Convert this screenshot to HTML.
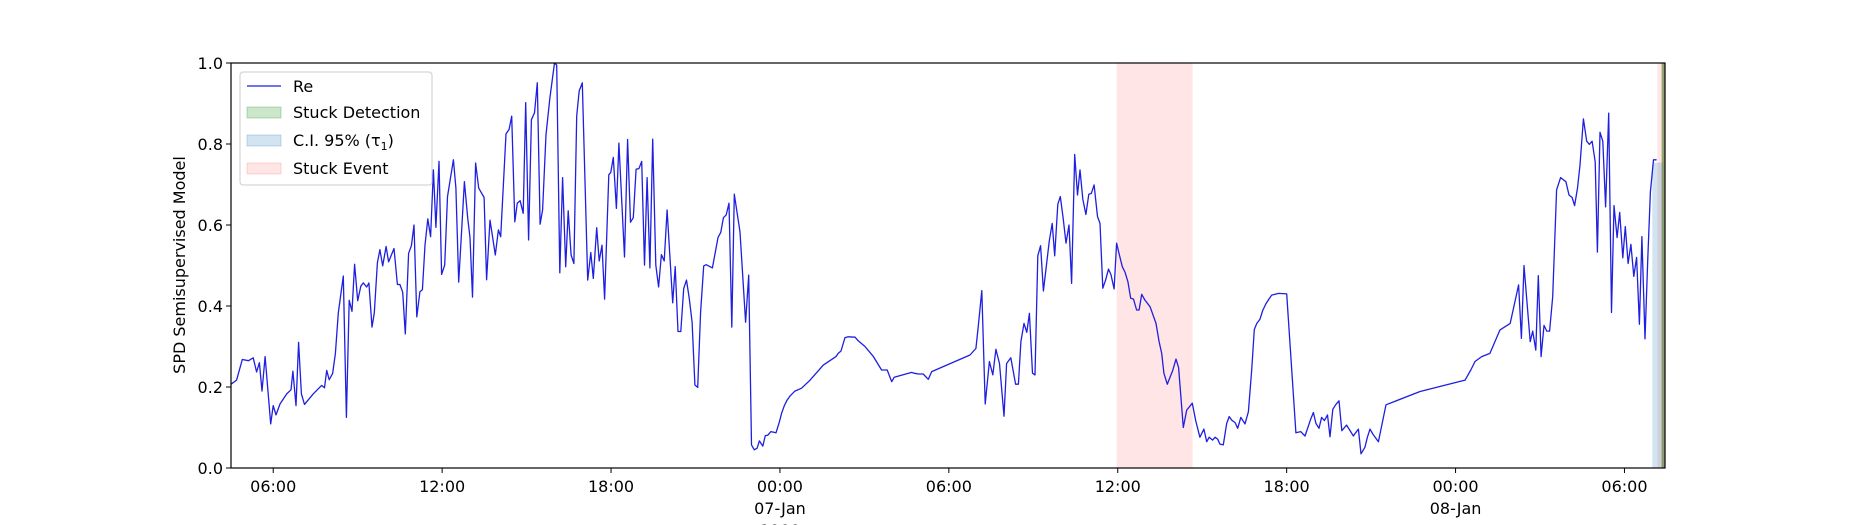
<!DOCTYPE html>
<html><head><meta charset="utf-8"><style>
html,body{margin:0;padding:0;background:#fff;}
svg{display:block;font-family:"DejaVu Sans","Liberation Sans",sans-serif;}
</style></head><body>
<svg id="chart" width="1850" height="525" viewBox="0 0 1850 525">
<g id="bands"></g>
<g id="series"></g>
<g id="axes"></g>
<g id="legend">
  <rect x="240" y="72" width="192" height="113" rx="3" fill="#fff" fill-opacity="0.8" stroke="#ccc"/>
  <line x1="247" y1="86" x2="281" y2="86" stroke="#1f1fe0" stroke-width="1.3"/>
  <text x="293" y="92" font-size="16">Re</text>
  <rect x="247" y="107" width="34" height="11" fill="rgba(0,128,0,0.2)" stroke="rgba(0,128,0,0.25)"/>
  <text x="293" y="118" font-size="16">Stuck Detection</text>
  <rect x="247" y="135" width="34" height="11" fill="rgba(31,119,180,0.2)" stroke="rgba(31,119,180,0.25)"/>
  <text x="293" y="146" font-size="16">C.I. 95% (τ<tspan font-size="11" dy="4">1</tspan><tspan dy="-4">)</tspan></text>
  <rect x="247" y="163" width="34" height="11" fill="rgba(255,0,0,0.1)" stroke="rgba(255,0,0,0.15)"/>
  <text x="293" y="174" font-size="16">Stuck Event</text>
</g>
</svg>
<script>
// hours since 04:30 on 06-Jan
const times = [0.00,0.20,0.40,0.62,0.79,0.91,1.01,1.10,1.21,1.41,1.50,1.60,1.74,1.98,2.13,2.20,2.31,2.40,2.50,2.61,2.92,3.22,3.32,3.40,3.49,3.61,3.71,3.81,3.99,4.10,4.20,4.30,4.39,4.50,4.61,4.70,4.82,4.90,5.01,5.09,5.20,5.29,5.39,5.51,5.60,5.79,5.91,6.00,6.10,6.19,6.31,6.41,6.50,6.60,6.71,6.80,6.89,6.99,7.09,7.19,7.28,7.39,7.48,7.59,7.69,7.90,7.99,8.09,8.29,8.41,8.49,8.58,8.69,8.80,8.99,9.08,9.20,9.30,9.39,9.50,9.58,9.77,9.88,9.97,10.08,10.17,10.27,10.38,10.47,10.57,10.67,10.78,10.88,10.98,11.07,11.19,11.33,11.49,11.57,11.68,11.78,11.89,11.98,12.08,12.18,12.28,12.37,12.48,12.58,12.67,12.78,12.87,12.99,13.08,13.18,13.27,13.42,
13.49,13.58,13.69,13.78,13.98,14.09,14.19,14.29,14.39,14.49,14.59,14.69,14.78,14.88,14.98,15.09,15.19,15.29,15.39,15.49,15.69,15.78,15.88,15.98,16.08,16.18,16.28,16.38,16.48,16.58,16.68,16.79,16.88,17.10,17.30,17.40,17.49,17.59,17.69,17.79,17.88,18.08,18.28,18.39,18.49,18.59,18.69,
18.77,18.89,18.98,19.07,19.18,19.36,19.48,19.56,19.65,19.74,19.86,20.03,20.27,20.57,21.04,21.49,21.57,21.67,21.81,21.93,22.17,22.28,22.52,22.82,23.11,23.31,23.47,23.56,24.18,24.26,24.42,24.59,24.77,24.89,26.25,26.46,26.55,26.67,26.79,26.94,27.06,
27.17,27.30,27.46,27.55,27.70,27.87,
27.97,28.06,28.17,28.27,28.36,28.47,28.56,28.66,28.76,28.86,29.07,29.17,29.26,29.37,29.46,29.56,29.66,29.77,29.86,29.97,30.07,30.16,30.26,30.37,30.47,30.56,30.66,30.78,30.87,30.97,31.07,31.17,31.26,31.37,31.46,31.56,31.66,31.76,31.86,31.96,32.06,32.17,32.26,32.35,32.46,32.65,32.86,32.97,33.06,33.14,33.26,33.45,33.57,33.66,33.83,33.95,34.15,
34.27,34.42,34.56,34.66,34.75,34.87,34.96,35.05,35.13,35.25,35.37,35.46,35.55,35.67,35.76,35.87,36.02,36.14,36.26,36.35,36.44,36.55,36.65,36.76,36.87,36.97,37.21,37.50,37.83,38.00,38.15,38.35,38.45,38.54,38.65,38.74,38.84,38.95,39.04,39.14,39.24,39.36,39.46,39.63,39.87,39.95,40.05,40.14,40.28,40.37,40.46,40.56,40.76,41.03,42.24,
43.84,44.04,44.19,44.43,44.72,45.08,45.44,45.74,45.84,45.93,46.15,46.24,46.35,46.44,46.54,46.64,46.74,46.84,46.95,47.09,47.23,47.42,47.53,47.64,47.73,47.83,47.92,48.04,48.16,48.25,48.35,48.46,48.54,48.63,48.73,48.83,48.94,49.04,49.13,49.24,49.33,49.44,49.53,49.63,49.73,49.83,49.93,50.03,50.12,50.23,50.33,50.42,50.53,50.64,50.74,50.85,50.94];
const values = [0.207,0.217,0.268,0.265,0.272,0.237,0.26,0.19,0.275,0.109,0.154,0.131,0.158,0.183,0.193,0.239,0.154,0.31,0.183,0.157,0.183,0.204,0.198,0.241,0.218,0.233,0.283,0.383,0.474,0.125,0.414,0.387,0.503,0.413,0.449,0.457,0.447,0.457,0.348,0.383,0.507,0.539,0.499,0.547,0.509,0.542,0.453,0.453,0.434,0.331,0.53,0.549,0.60,0.373,0.435,0.44,0.55,0.615,0.571,0.736,0.594,0.757,0.478,0.501,0.67,0.761,0.691,0.459,0.707,0.617,0.569,0.422,0.753,0.691,0.668,0.465,0.612,0.567,0.526,0.588,0.571,0.825,0.836,0.869,0.608,0.654,0.66,0.629,0.902,0.563,0.86,0.877,0.951,0.602,0.637,0.823,0.914,1.0,0.995,0.482,0.717,0.497,0.635,0.526,0.505,0.869,0.931,0.951,0.699,0.464,0.532,0.468,0.593,0.511,0.55,0.417,0.724,
0.73,0.767,0.641,0.802,0.521,0.811,0.607,0.618,0.738,0.739,0.757,0.501,0.717,0.494,0.812,0.501,0.447,0.527,0.511,0.637,0.408,0.497,0.337,0.337,0.443,0.464,0.418,0.36,0.205,0.199,0.385,0.499,0.502,0.494,0.569,0.582,0.618,0.625,0.654,0.348,0.676,0.583,0.36,0.476,
0.057,0.045,0.049,0.067,0.054,0.08,0.081,0.09,0.087,0.114,0.135,0.153,0.166,0.178,0.19,0.197,0.217,0.254,0.275,0.283,0.289,0.322,0.324,0.323,0.314,0.3,0.275,0.242,0.242,0.213,0.224,0.236,0.234,0.232,0.232,0.219,0.238,0.279,0.295,0.353,0.438,
0.158,0.263,0.23,0.293,0.258,0.128,
0.258,0.272,0.207,0.207,0.312,0.357,0.335,0.382,0.234,0.23,0.524,0.549,0.437,0.561,0.604,0.524,0.651,0.67,0.618,0.555,0.6,0.456,0.774,0.674,0.736,0.664,0.626,0.676,0.678,0.699,0.621,0.604,0.444,0.464,0.491,0.477,0.442,0.555,0.526,0.497,0.483,0.46,0.419,0.417,0.39,0.39,0.429,0.415,0.398,0.357,0.312,0.283,0.234,0.207,0.24,0.269,0.248,
0.1,0.143,0.16,0.117,0.076,0.096,0.065,0.076,0.069,0.076,0.071,0.059,0.057,0.11,0.127,0.118,0.112,0.098,0.125,0.109,0.139,0.242,0.342,0.357,0.367,0.389,0.405,0.417,0.427,0.431,0.43,0.087,0.09,0.079,0.12,0.137,0.11,0.098,0.125,0.117,0.131,0.077,0.145,0.156,0.166,0.092,0.106,0.079,0.087,0.096,0.035,0.051,0.076,0.096,0.084,
0.065,0.156,0.189,0.217,0.242,0.263,0.275,0.283,0.341,0.357,0.452,0.32,0.5,0.312,0.338,0.291,0.475,0.275,0.352,0.338,0.338,0.423,0.687,0.717,0.707,0.674,0.668,0.648,0.691,0.748,0.862,0.807,0.799,0.807,0.756,0.533,0.829,0.807,0.645,0.876,0.384,0.648,0.569,0.631,0.519,0.596,0.505,0.552,0.473,0.52,0.355,0.571,0.319,0.518,0.682,0.761,0.761];
const yTicks = [0.0,0.2,0.4,0.6,0.8,1.0];
const yTickLabels = ["0.0","0.2","0.4","0.6","0.8","1.0"];
const xTicks = [1.5,7.5,13.5,19.5,25.5,31.5,37.5,43.5,49.5];
const xTickLabels = [["06:00"],["12:00"],["18:00"],["00:00","07-Jan","1900"],["06:00"],["12:00"],["18:00"],["00:00","08-Jan"],["06:00"]];
const stuckEventStarts = [31.46,50.67];
const stuckEventEnds = [34.16,50.94];
const ciStarts = [50.49];
const ciEnds = [50.88];
const ciHeights = [0.754];
const detectStarts = [50.82];
const detectEnds = [50.94];

const NS="http://www.w3.org/2000/svg";
const L=231,R=1665,T=63,B=468,tMax=50.94;
function xs(t){return L+(t/tMax)*(R-L);}
function ys(v){return B-v*(B-T);}
function mk(tag,attrs,parent){const e=document.createElementNS(NS,tag);for(const k in attrs)e.setAttribute(k,attrs[k]);parent.appendChild(e);return e;}
const bands=document.getElementById('bands'),series=document.getElementById('series'),axes=document.getElementById('axes');

for(let i=0;i<stuckEventStarts.length;i++){
  const r=mk('rect',{x:xs(stuckEventStarts[i]),y:T,width:xs(stuckEventEnds[i])-xs(stuckEventStarts[i]),height:B-T,fill:'rgba(255,0,0,0.1)'},bands);
  
  
}
for(let i=0;i<ciStarts.length;i++){
  const r=mk('rect',{x:xs(ciStarts[i]),y:ys(ciHeights[i]),width:xs(ciEnds[i])-xs(ciStarts[i]),height:B-ys(ciHeights[i]),fill:'rgba(31,119,180,0.2)'},bands);
  
  
}
for(let i=0;i<detectStarts.length;i++){
  const r=mk('rect',{x:xs(detectStarts[i]),y:T,width:xs(detectEnds[i])-xs(detectStarts[i]),height:B-T,fill:'rgba(60,110,20,0.55)'},bands);
  
  
}

let d='';
for(let i=0;i<times.length;i++){d+=(i?'L':'M')+xs(times[i]).toFixed(1)+','+ys(values[i]).toFixed(1);}
const line=mk('path',{d:d,fill:'none',stroke:'#1f1fe0','stroke-width':1.3,'stroke-linejoin':'round'},series);



const frame=mk('rect',{x:L,y:T,width:R-L,height:B-T,fill:'none',stroke:'#000','stroke-width':1.2},axes);



for(let i=0;i<yTicks.length;i++){
  const y=ys(yTicks[i]);
  const tk=mk('line',{x1:L-5,y1:y,x2:L,y2:y,stroke:'#000','stroke-width':1},axes);
  
  
  const tx=mk('text',{x:L-8,y:y+6,'text-anchor':'end','font-size':16},axes);
  tx.textContent=yTickLabels[i];
  
  
}
for(let i=0;i<xTicks.length;i++){
  const x=xs(xTicks[i]);
  const tk=mk('line',{x1:x,y1:B,x2:x,y2:B+5,stroke:'#000','stroke-width':1},axes);
  
  
  xTickLabels[i].forEach((s,j)=>{
    const tx=mk('text',{x:x,y:B+24+j*22,'text-anchor':'middle','font-size':16},axes);
    tx.textContent=s;
    
    
  });
}
const yl=mk('text',{x:0,y:0,transform:'translate(185,265) rotate(-90)','text-anchor':'middle','font-size':16},axes);
yl.textContent='SPD Semisupervised Model';


</script>
</body></html>
